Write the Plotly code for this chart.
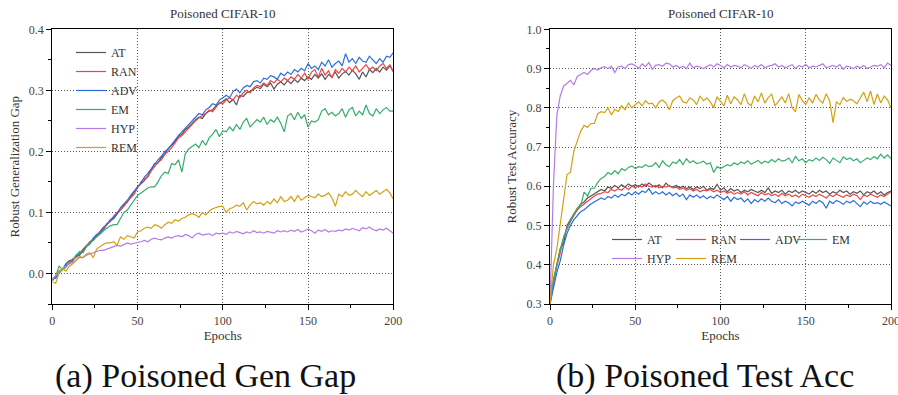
import plotly.graph_objects as go

EPOCHS = list(range(0, 201, 2))
NAMES = ["AT", "RAN", "ADV", "EM", "HYP", "REM"]
COLORS = ["#555555", "#ee4444", "#2a6fe0", "#36ad6e", "#b57be8", "#d4a012"]

# ---- (a) Robust generalization gap ----
GAP_AT = [-0.012, -0.004, 0.004, 0.006, 0.016, 0.021, 0.022, 0.028, 0.030, 0.038,
          0.045, 0.052, 0.055, 0.062, 0.070, 0.076, 0.080, 0.086, 0.090, 0.098,
          0.106, 0.112, 0.117, 0.126, 0.134, 0.142, 0.147, 0.152, 0.160, 0.170,
          0.180, 0.181, 0.190, 0.196, 0.205, 0.210, 0.216, 0.225, 0.228, 0.236,
          0.240, 0.246, 0.252, 0.256, 0.254, 0.262, 0.266, 0.268, 0.275, 0.278,
          0.282, 0.286, 0.280, 0.285, 0.276, 0.292, 0.290, 0.296, 0.298, 0.302,
          0.305, 0.303, 0.310, 0.306, 0.312, 0.302, 0.310, 0.314, 0.309, 0.316,
          0.311, 0.318, 0.313, 0.320, 0.316, 0.322, 0.318, 0.326, 0.320, 0.327,
          0.318, 0.326, 0.322, 0.330, 0.320, 0.327, 0.331, 0.325, 0.333, 0.327,
          0.318, 0.330, 0.322, 0.334, 0.329, 0.336, 0.330, 0.338, 0.333, 0.340,
          0.331]
GAP_RAN = [-0.010, -0.006, 0.002, 0.008, 0.012, 0.018, 0.024, 0.026, 0.034, 0.040,
           0.046, 0.050, 0.057, 0.060, 0.068, 0.074, 0.082, 0.085, 0.094, 0.100,
           0.104, 0.110, 0.118, 0.124, 0.130, 0.140, 0.150, 0.155, 0.158, 0.168,
           0.175, 0.182, 0.186, 0.195, 0.200, 0.206, 0.214, 0.222, 0.226, 0.232,
           0.238, 0.245, 0.250, 0.255, 0.258, 0.262, 0.268, 0.265, 0.272, 0.280,
           0.278, 0.284, 0.288, 0.284, 0.292, 0.288, 0.296, 0.300, 0.296, 0.304,
           0.308, 0.306, 0.312, 0.308, 0.316, 0.312, 0.318, 0.314, 0.320, 0.316,
           0.322, 0.318, 0.326, 0.320, 0.328, 0.318, 0.330, 0.334, 0.322, 0.336,
           0.325, 0.332, 0.320, 0.334, 0.328, 0.336, 0.330, 0.338, 0.332, 0.340,
           0.330, 0.336, 0.342, 0.334, 0.338, 0.332, 0.340, 0.344, 0.336, 0.342,
           0.330]
GAP_ADV = [-0.008, -0.008, 0.000, 0.008, 0.014, 0.016, 0.022, 0.030, 0.032, 0.036,
           0.044, 0.048, 0.058, 0.064, 0.066, 0.072, 0.080, 0.088, 0.092, 0.098,
           0.108, 0.114, 0.120, 0.128, 0.136, 0.142, 0.148, 0.158, 0.164, 0.172,
           0.178, 0.186, 0.192, 0.200, 0.204, 0.212, 0.220, 0.226, 0.232, 0.238,
           0.244, 0.250, 0.256, 0.262, 0.260, 0.268, 0.272, 0.278, 0.276, 0.284,
           0.288, 0.292, 0.288, 0.298, 0.302, 0.296, 0.304, 0.308, 0.306, 0.314,
           0.316, 0.312, 0.320, 0.318, 0.324, 0.322, 0.318, 0.328, 0.324, 0.330,
           0.326, 0.334, 0.330, 0.336, 0.332, 0.344, 0.336, 0.340, 0.334, 0.346,
           0.340, 0.350, 0.338, 0.344, 0.348, 0.340, 0.360, 0.346, 0.352, 0.344,
           0.354, 0.348, 0.346, 0.356, 0.350, 0.344, 0.352, 0.346, 0.356, 0.354,
           0.362]
GAP_EM = [-0.010, -0.004, 0.012, 0.006, 0.010, 0.018, 0.020, 0.030, 0.036, 0.034,
          0.044, 0.050, 0.054, 0.060, 0.064, 0.070, 0.074, 0.078, 0.080, 0.080,
          0.090, 0.100, 0.104, 0.112, 0.122, 0.128, 0.132, 0.136, 0.140, 0.142,
          0.142, 0.150, 0.160, 0.166, 0.164, 0.180, 0.178, 0.186, 0.166, 0.196,
          0.204, 0.208, 0.212, 0.206, 0.218, 0.210, 0.222, 0.228, 0.236, 0.224,
          0.234, 0.232, 0.240, 0.234, 0.244, 0.236, 0.248, 0.254, 0.240, 0.246,
          0.252, 0.248, 0.256, 0.244, 0.252, 0.248, 0.256, 0.246, 0.232, 0.258,
          0.262, 0.252, 0.264, 0.254, 0.260, 0.240, 0.250, 0.248, 0.252, 0.266,
          0.270, 0.260, 0.264, 0.258, 0.262, 0.270, 0.256, 0.268, 0.272, 0.258,
          0.266, 0.260, 0.276, 0.262, 0.258, 0.270, 0.262, 0.268, 0.272, 0.266,
          0.266]
GAP_HYP = [-0.010, -0.004, 0.004, 0.008, 0.012, 0.016, 0.018, 0.022, 0.026, 0.026,
           0.030, 0.032, 0.034, 0.036, 0.038, 0.038, 0.040, 0.042, 0.044, 0.046,
           0.045, 0.048, 0.050, 0.048, 0.049, 0.050, 0.052, 0.054, 0.052, 0.056,
           0.058, 0.056, 0.055, 0.058, 0.060, 0.058, 0.061, 0.062, 0.060, 0.064,
           0.062, 0.058, 0.064, 0.066, 0.063, 0.064, 0.065, 0.062, 0.066, 0.065,
           0.066, 0.064, 0.068, 0.066, 0.069, 0.067, 0.065, 0.068, 0.066, 0.070,
           0.067, 0.068, 0.066, 0.069, 0.068, 0.066, 0.070, 0.068, 0.070, 0.068,
           0.071, 0.069, 0.072, 0.068, 0.070, 0.073, 0.070, 0.066, 0.071, 0.069,
           0.072, 0.068, 0.070, 0.069, 0.071, 0.070, 0.073, 0.071, 0.074, 0.072,
           0.070, 0.075, 0.073, 0.076, 0.072, 0.070, 0.073, 0.071, 0.074, 0.070,
           0.066]
GAP_REM = [-0.014, -0.016, 0.002, 0.008, 0.004, 0.012, 0.016, 0.022, 0.028, 0.026,
           0.032, 0.034, 0.026, 0.040, 0.044, 0.048, 0.050, 0.050, 0.052, 0.046,
           0.060, 0.056, 0.062, 0.060, 0.058, 0.068, 0.070, 0.074, 0.076, 0.074,
           0.080, 0.078, 0.074, 0.080, 0.084, 0.082, 0.088, 0.086, 0.090, 0.092,
           0.096, 0.098, 0.096, 0.092, 0.100, 0.096, 0.102, 0.106, 0.108, 0.110,
           0.110, 0.100, 0.106, 0.108, 0.112, 0.110, 0.116, 0.104, 0.112, 0.118,
           0.114, 0.116, 0.112, 0.118, 0.114, 0.122, 0.116, 0.126, 0.118, 0.120,
           0.126, 0.118, 0.128, 0.120, 0.124, 0.128, 0.126, 0.124, 0.130, 0.126,
           0.128, 0.132, 0.124, 0.110, 0.130, 0.126, 0.134, 0.128, 0.130, 0.136,
           0.130, 0.126, 0.134, 0.128, 0.132, 0.136, 0.130, 0.134, 0.138, 0.132,
           0.122]

# ---- (b) Robust test accuracy ----
ACC_AT = [0.300, 0.360, 0.400, 0.440, 0.455, 0.500, 0.515, 0.530, 0.540, 0.555,
          0.560, 0.570, 0.575, 0.580, 0.585, 0.592, 0.588, 0.598, 0.595, 0.602,
          0.596, 0.604, 0.598, 0.606, 0.600, 0.604, 0.598, 0.606, 0.600, 0.608,
          0.602, 0.598, 0.604, 0.596, 0.608, 0.600, 0.598, 0.602, 0.596, 0.600,
          0.594, 0.598, 0.592, 0.598, 0.594, 0.600, 0.590, 0.596, 0.592, 0.605,
          0.590, 0.596, 0.586, 0.594, 0.588, 0.592, 0.584, 0.590, 0.586, 0.592,
          0.588, 0.584, 0.590, 0.584, 0.596, 0.582, 0.588, 0.584, 0.590, 0.580,
          0.588, 0.584, 0.590, 0.582, 0.588, 0.584, 0.580, 0.588, 0.582, 0.590,
          0.584, 0.588, 0.580, 0.586, 0.582, 0.590, 0.584, 0.588, 0.580, 0.586,
          0.582, 0.588, 0.578, 0.586, 0.582, 0.588, 0.580, 0.586, 0.578, 0.584,
          0.588]
ACC_RAN = [0.300, 0.350, 0.395, 0.430, 0.470, 0.495, 0.510, 0.525, 0.540, 0.548,
           0.555, 0.562, 0.570, 0.575, 0.580, 0.582, 0.586, 0.584, 0.592, 0.588,
           0.594, 0.590, 0.598, 0.592, 0.600, 0.596, 0.602, 0.598, 0.606, 0.600,
           0.598, 0.602, 0.596, 0.600, 0.598, 0.602, 0.596, 0.598, 0.592, 0.596,
           0.590, 0.594, 0.588, 0.592, 0.586, 0.590, 0.588, 0.592, 0.586, 0.590,
           0.584, 0.588, 0.582, 0.586, 0.580, 0.584, 0.580, 0.586, 0.578, 0.584,
           0.580, 0.576, 0.584, 0.578, 0.582, 0.576, 0.580, 0.574, 0.582, 0.576,
           0.580, 0.574, 0.578, 0.572, 0.580, 0.576, 0.572, 0.578, 0.574, 0.580,
           0.576, 0.570, 0.578, 0.574, 0.580, 0.576, 0.572, 0.578, 0.574, 0.580,
           0.576, 0.566, 0.578, 0.574, 0.580, 0.576, 0.572, 0.578, 0.574, 0.580,
           0.586]
ACC_ADV = [0.300, 0.345, 0.380, 0.410, 0.450, 0.480, 0.500, 0.515, 0.525, 0.535,
           0.540, 0.548, 0.555, 0.560, 0.565, 0.570, 0.566, 0.574, 0.570, 0.578,
           0.572, 0.580, 0.576, 0.584, 0.578, 0.586, 0.580, 0.588, 0.584, 0.594,
           0.580, 0.586, 0.580, 0.586, 0.578, 0.584, 0.576, 0.582, 0.574, 0.580,
           0.566, 0.578, 0.572, 0.578, 0.570, 0.576, 0.568, 0.574, 0.570, 0.578,
           0.572, 0.566, 0.574, 0.562, 0.572, 0.566, 0.570, 0.560, 0.568, 0.556,
           0.566, 0.560, 0.568, 0.562, 0.570, 0.562, 0.558, 0.566, 0.556, 0.562,
           0.558, 0.550, 0.560, 0.556, 0.562, 0.558, 0.552, 0.562, 0.556, 0.564,
           0.558, 0.544, 0.562, 0.556, 0.564, 0.560, 0.554, 0.562, 0.558, 0.564,
           0.556, 0.548, 0.560, 0.554, 0.562, 0.556, 0.558, 0.554, 0.560, 0.556,
           0.550]
ACC_EM = [0.300, 0.360, 0.400, 0.440, 0.470, 0.490, 0.510, 0.530, 0.545, 0.550,
          0.585, 0.575, 0.595, 0.595, 0.610, 0.620, 0.625, 0.635, 0.630, 0.640,
          0.632, 0.645, 0.640, 0.648, 0.652, 0.645, 0.650, 0.648, 0.655, 0.650,
          0.652, 0.660, 0.648, 0.665, 0.655, 0.650, 0.662, 0.658, 0.668, 0.655,
          0.670, 0.660, 0.665, 0.658, 0.660, 0.664, 0.656, 0.660, 0.635, 0.650,
          0.645, 0.650, 0.655, 0.652, 0.660, 0.655, 0.662, 0.658, 0.665, 0.656,
          0.660, 0.666, 0.658, 0.664, 0.660, 0.668, 0.662, 0.670, 0.664, 0.666,
          0.672, 0.660, 0.676, 0.665, 0.670, 0.660, 0.668, 0.664, 0.672, 0.666,
          0.674, 0.668, 0.658, 0.672, 0.666, 0.660, 0.675, 0.668, 0.672, 0.665,
          0.670, 0.660, 0.666, 0.672, 0.668, 0.676, 0.670, 0.682, 0.672, 0.680,
          0.670]
ACC_HYP = [0.300, 0.600, 0.780, 0.830, 0.855, 0.862, 0.870, 0.858, 0.880, 0.885,
           0.890, 0.885, 0.895, 0.900, 0.896, 0.902, 0.905, 0.900, 0.906, 0.890,
           0.904, 0.906, 0.900, 0.910, 0.912, 0.908, 0.900, 0.912, 0.905, 0.915,
           0.898, 0.908, 0.910, 0.906, 0.914, 0.912, 0.904, 0.908, 0.902, 0.906,
           0.900, 0.914, 0.902, 0.906, 0.904, 0.900, 0.906, 0.910, 0.904, 0.912,
           0.908, 0.902, 0.910, 0.904, 0.908, 0.906, 0.902, 0.910, 0.906, 0.900,
           0.908, 0.904, 0.910, 0.902, 0.906, 0.908, 0.912, 0.904, 0.908, 0.902,
           0.906, 0.910, 0.900, 0.908, 0.904, 0.910, 0.902, 0.906, 0.904, 0.908,
           0.912, 0.902, 0.906, 0.908, 0.904, 0.910, 0.898, 0.906, 0.904, 0.900,
           0.906, 0.902, 0.908, 0.900, 0.904, 0.908, 0.906, 0.910, 0.902, 0.914,
           0.908]
ACC_REM = [0.300, 0.400, 0.440, 0.500, 0.570, 0.630, 0.636, 0.690, 0.715, 0.740,
           0.755, 0.750, 0.760, 0.760, 0.785, 0.790, 0.788, 0.800, 0.782, 0.796,
           0.790, 0.805, 0.795, 0.812, 0.800, 0.808, 0.815, 0.805, 0.818, 0.810,
           0.812, 0.800, 0.815, 0.820, 0.812, 0.795, 0.818, 0.825, 0.830, 0.815,
           0.812, 0.825, 0.820, 0.808, 0.830, 0.818, 0.825, 0.815, 0.800, 0.828,
           0.815, 0.805, 0.832, 0.810, 0.828, 0.820, 0.808, 0.836, 0.812, 0.805,
           0.830, 0.815, 0.838, 0.812, 0.826, 0.835, 0.805, 0.818, 0.828, 0.812,
           0.836, 0.800, 0.790, 0.834, 0.818, 0.808, 0.826, 0.812, 0.834, 0.820,
           0.812, 0.836, 0.818, 0.762, 0.815, 0.808, 0.826, 0.816, 0.822, 0.818,
           0.810, 0.825, 0.840, 0.815, 0.843, 0.808, 0.835, 0.812, 0.830, 0.820,
           0.800]

GAP = [GAP_AT, GAP_RAN, GAP_ADV, GAP_EM, GAP_HYP, GAP_REM]
ACC = [ACC_AT, ACC_RAN, ACC_ADV, ACC_EM, ACC_HYP, ACC_REM]
for s in GAP + ACC:
    assert len(s) == len(EPOCHS), len(s)

# legend column of each series in panel (b)
ACC_LEGEND = ["legend2", "legend3", "legend4", "legend5", "legend2", "legend3"]

FONT = "Liberation Serif"
W, H = 898, 395

fig = go.Figure()
for name, col, ys in zip(NAMES, COLORS, GAP):
    fig.add_trace(go.Scatter(x=EPOCHS, y=ys, name=name, mode="lines",
                             line=dict(color=col, width=1.2),
                             xaxis="x", yaxis="y", legend="legend"))
for name, col, ys, lg in zip(NAMES, COLORS, ACC, ACC_LEGEND):
    fig.add_trace(go.Scatter(x=EPOCHS, y=ys, name=name, mode="lines",
                             line=dict(color=col, width=1.2),
                             xaxis="x2", yaxis="y2", legend=lg))

def px_x(p):
    return p / W

def px_y(p):
    return 1 - p / H

xdom1 = [px_x(52.3), px_x(393.3)]
xdom2 = [px_x(550), px_x(891)]
ydom = [px_y(304), px_y(29.3)]

axis_common = dict(
    showline=True, linecolor="black", linewidth=1.2, mirror=True,
    ticks="outside", ticklen=5, tickwidth=1, tickcolor="black",
    showgrid=True, gridcolor="#555555", griddash="1px,2px", gridwidth=1,
    zeroline=False, automargin=False, ticklabeloverflow="allow",
    tickfont=dict(family=FONT, size=12, color="#444444"),
    title_font=dict(family=FONT, size=13, color="#333333"),
)
minor_x = dict(dtick=25, ticks="outside", ticklen=3, tickcolor="black", showgrid=False)
minor_y = dict(dtick=0.05, ticks="outside", ticklen=3, tickcolor="black", showgrid=False)
legend_font = dict(family=FONT, size=12, color="#333333")

def col_legend(xpx, ypx):
    return dict(x=px_x(xpx), y=px_y(ypx), xanchor="left", yanchor="top",
                bgcolor="rgba(0,0,0,0)", font=legend_font, tracegroupgap=0)

fig.update_layout(
    width=W, height=H,
    margin=dict(l=0, r=0, t=0, b=0),
    paper_bgcolor="white", plot_bgcolor="white",
    showlegend=True,
    xaxis=dict(domain=xdom1, anchor="y", range=[0, 200], dtick=50, minor=minor_x,
               title=dict(text="Epochs", standoff=4), **axis_common),
    yaxis=dict(domain=ydom, anchor="x", range=[-0.05, 0.4], dtick=0.1, tickformat=".1f",
               minor=minor_y, title=dict(text="Robust Generalization Gap", standoff=6),
               **axis_common),
    xaxis2=dict(domain=xdom2, anchor="y2", range=[0, 200], dtick=50, minor=minor_x,
                title=dict(text="Epochs", standoff=4), **axis_common),
    yaxis2=dict(domain=ydom, anchor="x2", range=[0.3, 1.0], dtick=0.1, tickformat=".1f",
                minor=minor_y, title=dict(text="Robust Test Accuracy", standoff=6),
                **axis_common),
    legend=col_legend(71, 38),
    legend2=col_legend(607, 225),
    legend3=col_legend(671, 225),
    legend4=col_legend(735, 225),
    legend5=col_legend(792, 225),
    annotations=[
        dict(text="Poisoned CIFAR-10", xref="x domain", yref="paper", x=0.5, y=px_y(14),
             xanchor="center", yanchor="middle", showarrow=False,
             font=dict(family=FONT, size=13, color="#333333")),
        dict(text="Poisoned CIFAR-10", xref="x2 domain", yref="paper", x=0.5, y=px_y(14),
             xanchor="center", yanchor="middle", showarrow=False,
             font=dict(family=FONT, size=13, color="#333333")),
        dict(text="(a) Poisoned Gen Gap", xref="paper", yref="paper", x=px_x(205), y=px_y(376),
             xanchor="center", yanchor="middle", showarrow=False,
             font=dict(family="Liberation Serif", size=34, color="#111111")),
        dict(text="(b) Poisoned Test Acc", xref="paper", yref="paper", x=px_x(705), y=px_y(376),
             xanchor="center", yanchor="middle", showarrow=False,
             font=dict(family="Liberation Serif", size=34, color="#111111")),
    ],
)

fig.write_html("out.html", config={"displayModeBar": False},
               post_script="document.body.style.margin='0px';document.body.style.overflow='hidden';")
